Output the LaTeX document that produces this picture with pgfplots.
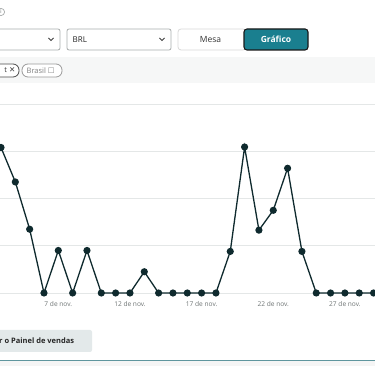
\documentclass[border=0pt]{standalone}
\usepackage{pgfplots}
\pgfplotsset{compat=1.18}
\usepackage{fontspec}
\setmainfont{Open Sans}
\newfontfamily\symfont{DejaVu Sans}
\definecolor{lineC}{HTML}{0F2A2E}
\definecolor{gridC}{HTML}{E4E7E7}
\definecolor{tealB}{HTML}{1A7F8F}
\definecolor{tickC}{HTML}{6F7575}
\definecolor{boxB}{HTML}{A9ADAD}
\definecolor{bandC}{HTML}{F6F7F7}
\definecolor{btnC}{HTML}{E3E9EA}
\begin{document}
\begin{tikzpicture}
\useasboundingbox (0,0) rectangle (375pt,366pt);
\clip (0,0) rectangle (375pt,366pt);
\fill[white] (0,0) rectangle (375pt,366pt);
\begin{axis}[
  at={(0pt,73pt)}, anchor=south west,
  scale only axis, width=375pt, height=189pt,
  xmin=2.93, xmax=29.1, ymin=0, ymax=4,
  axis line style={draw=none},
  ytick={0,1,2,3,4}, yticklabels={},
  ymajorgrids, grid style={gridC, line width=0.8pt},
  xtick={7,12,17,22,27},
  xticklabels={7 de nov.,12 de nov.,17 de nov.,22 de nov.,27 de nov.},
  major tick length=0pt,
  xticklabel style={font=\fontsize{6.6}{7}\selectfont, text=tickC, anchor=base, yshift=-14pt},
  clip=false,
]
\addplot[lineC, line width=1.3pt, mark=*, mark size=2.9pt, mark options={fill=lineC, draw=lineC}] coordinates {
(3,3.08) (4,2.35) (5,1.35) (6,0) (7,0.9) (8,0) (9,0.9) (10,0) (11,0) (12,0)
(13,0.45) (14,0) (15,0) (16,0) (17,0) (18,0) (19,0.88) (20,3.09)
(21,1.33) (22,1.75) (23,2.64) (24,0.88) (25,0) (26,0) (27,0) (28,0) (29,0)
};
\end{axis}
\begin{scope}[x=1pt, y=-1pt, yshift=366pt]
  % info icon
  \draw[boxB, line width=0.7pt] (1,12) circle (3.6);
  \node[text=boxB, font=\fontsize{5}{5}\selectfont\bfseries] at (1,12) {i};
  % dropdown 1
  \draw[boxB, line width=0.8pt, rounded corners=2pt] (-5,29) rectangle (60,50);
  \draw[black!75, line width=0.9pt] (48.5,38) -- (51,40.5) -- (53.5,38);
  % dropdown 2
  \draw[boxB, line width=0.8pt, rounded corners=2pt] (67,29) rectangle (171,50);
  \node[anchor=west, inner sep=0, font=\fontsize{8}{9}\selectfont, text=black!85] at (72.5,39.5) {BRL};
  \draw[black!75, line width=0.9pt] (159.5,38) -- (162,40.5) -- (164.5,38);
  % Mesa
  \draw[black!15, line width=0.8pt, rounded corners=3pt] (178,29) rectangle (246,50);
  \node[font=\fontsize{8.5}{9}\selectfont, text=black!80] at (210.5,39.5) {Mesa};
  % Grafico
  \draw[fill=tealB, draw=black!90, line width=1.1pt, rounded corners=3pt] (244,29) rectangle (308,50);
  \node[font=\fontsize{8.5}{9}\selectfont\bfseries, text=white] at (276,39.5) {Gráfico};
  % band
  \fill[bandC] (0,57) rectangle (375,83);
  \draw[black!70, line width=0.8pt, rounded corners=6pt, fill=white] (-12,64) rectangle (19,77);
  \node[anchor=east, inner sep=0, font=\fontsize{7.5}{8}\selectfont, text=black!75] at (15.5,70.5) {t {\symfont ✕}};
  \draw[black!40, line width=0.8pt, rounded corners=6pt, fill=white] (22,64) rectangle (62,77);
  \node[anchor=west, inner sep=0, font=\fontsize{7.5}{8}\selectfont, text=black!50] at (26.5,70.5) {Brasil {\symfont ☐}};
  % bottom button
  \fill[btnC, rounded corners=2pt] (-6,330) rectangle (92,352);
  \node[anchor=west, inner sep=0, font=\fontsize{7.5}{8}\selectfont\bfseries, text=black!85] at (-1,341) {r o Painel de vendas};
  % bottom line
  \fill[black!4] (0,361) rectangle (375,367);
  \draw[color={rgb,255:red,95;green,150;blue,158}, line width=1pt] (0,361) -- (375,361);
\end{scope}
\end{tikzpicture}
\end{document}
